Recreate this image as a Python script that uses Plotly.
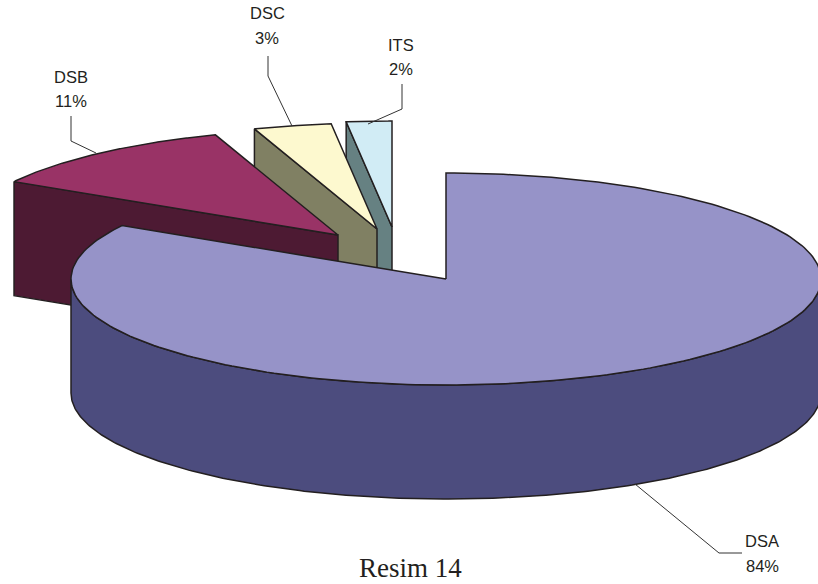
import numpy as np
import plotly.graph_objects as go

labels = ["DSA", "DSB", "DSC", "ITS"]
values = [83.4, 11.3, 3.35, 1.95]
percent_text = ["84%", "11%", "3%", "2%"]

top_colors = ["#9693C8", "#993366", "#FDF9CF", "#D1ECF5"]
wall_colors = ["#4C4C7E", "#4D1A33", "#808063", "#668182"]
edge = "#231F20"

RX, RY = 375.0, 106.0
DEPTH = 114.0
apexes = {"DSA": (446, 279), "DSB": (338, 235), "DSC": (377, 229), "ITS": (392, 227)}

cum = np.cumsum([0] + values) / sum(values) * 2 * np.pi


def rim(ax, ay, a0, a1, n=240):
    t = np.linspace(a0, a1, n)
    return ax + RX * np.sin(t), ay - RY * np.cos(t)


fig = go.Figure()


def poly(x, y, color):
    fig.add_trace(go.Scatter(
        x=np.r_[x, x[0]], y=np.r_[y, y[0]], mode="lines", fill="toself",
        fillcolor=color, line=dict(color=edge, width=1.5),
        hoverinfo="skip", showlegend=False))


# back slices first, painter order: ITS, DSC, DSB, then DSA
for i in [3, 2, 1, 0]:
    ax, ay = apexes[labels[i]]
    a0, a1 = cum[i], cum[i + 1]
    rx, ry = rim(ax, ay, a0, a1)
    if i == 0:
        wx, wy = rim(ax, ay, np.pi / 2, 3 * np.pi / 2)
        poly(np.r_[wx, wx[::-1]], np.r_[wy, wy[::-1] + DEPTH], wall_colors[i])
    else:
        fx = np.array([rx[0], ax, ax, rx[0]])
        fy = np.array([ry[0], ay, ay + DEPTH, ry[0] + DEPTH])
        poly(fx, fy, wall_colors[i])
    poly(np.r_[ax, rx], np.r_[ay, ry], top_colors[i])

leaders = {
    "DSA": ([635, 719, 742], [484, 553, 553]),
    "DSB": ([71, 71, 96], [116, 141, 153]),
    "DSC": ([268, 268, 292], [56, 76, 126]),
    "ITS": ([402, 402, 368], [84, 109, 124]),
}
for name, (lx, ly) in leaders.items():
    fig.add_trace(go.Scatter(x=lx, y=ly, mode="lines",
                             line=dict(color="#333333", width=1),
                             hoverinfo="skip", showlegend=False))

label_pos = {"DSA": (762, 541, 566), "DSB": (71, 77, 101), "DSC": (267, 13, 38), "ITS": (401, 45, 69)}
for name, pct in zip(labels, percent_text):
    px, py1, py2 = label_pos[name]
    for txt, py in ((name, py1), (pct, py2)):
        fig.add_annotation(x=px, y=py, text=txt, showarrow=False,
                           font=dict(family="Liberation Sans", size=16.5, color="#231F20"),
                           xanchor="center", yanchor="middle")

fig.add_annotation(x=410, y=568, text="Resim 14", showarrow=False,
                   font=dict(family="Liberation Serif", size=27, color="#231F20"),
                   xanchor="center", yanchor="middle")

fig.update_layout(
    width=818, height=584, margin=dict(l=0, r=0, t=0, b=0),
    paper_bgcolor="white", plot_bgcolor="white", showlegend=False,
    xaxis=dict(range=[0, 818], visible=False, fixedrange=True),
    yaxis=dict(range=[584, 0], visible=False, fixedrange=True),
)
fig.write_html("out.html", config={"displayModeBar": False},
               post_script="document.body.style.margin='0';document.body.style.overflow='hidden';")
